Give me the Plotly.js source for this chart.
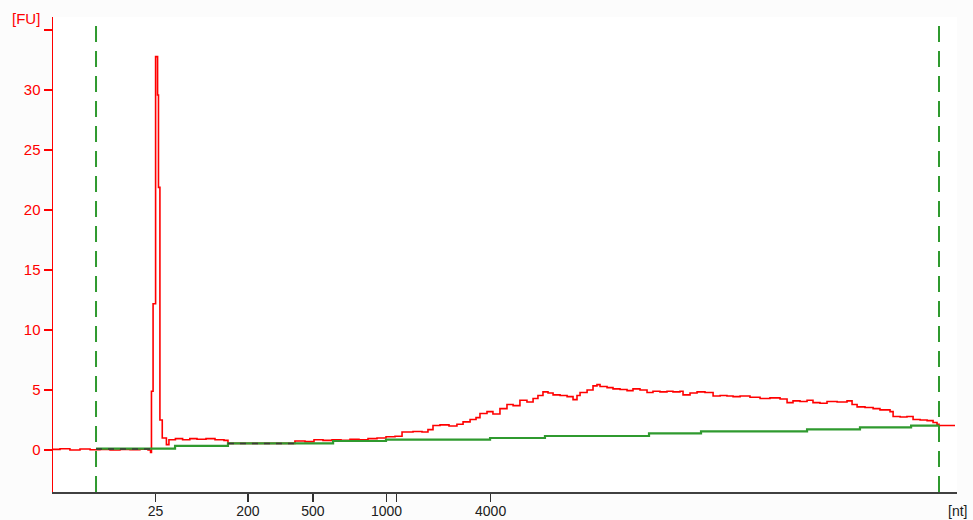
<!DOCTYPE html>
<html>
<head>
<meta charset="utf-8">
<script src="https://cdn.plot.ly/plotly-3.0.1.min.js"></script>
<style>html,body{margin:0;padding:0;background:#fff;}#chart{width:973px;height:520px;}</style>
</head>
<body>
<div id="chart"></div>
<script>
// Migration time (s) vs fluorescence (FU)
const sampleTime = [19.00,19.39,19.94,20.50,21.06,21.61,22.17,22.72,23.28,23.83,24.28,24.42,24.47,24.56,24.70,24.81,24.86,24.94,25.07,25.30,25.44,25.80,26.20,26.60,27.00,27.50,28.00,28.50,28.72,30.50,32.44,33.00,33.50,34.00,34.50,35.00,35.50,36.00,36.50,37.00,37.50,38.00,38.39,39.00,39.50,39.83,40.11,40.50,41.00,41.44,41.78,42.17,42.50,42.72,43.11,43.44,43.83,44.22,44.56,44.94,45.33,45.67,45.94,46.22,46.50,46.78,47.17,47.56,47.89,48.11,48.28,48.67,49.00,49.22,49.39,49.78,50.11,50.50,50.89,51.22,51.61,52.00,52.33,52.72,53.11,53.44,53.83,54.00,54.39,54.78,55.22,55.67,56.06,56.44,56.78,57.17,57.72,58.28,58.83,59.39,59.78,60.11,60.50,60.89,61.22,61.61,62.00,62.56,63.11,63.39,63.67,64.11,64.56,64.94,65.50,65.67,66.06,66.44,66.78,67.17,67.56,67.89,68.11,68.22,69.11];
const sampleFU = [0.05,0.10,0.00,0.08,0.02,0.05,0.00,0.05,0.02,0.06,0.00,-0.20,4.90,12.20,32.80,29.60,21.90,2.50,1.00,0.45,0.85,0.95,0.85,0.95,0.90,0.95,0.85,0.80,0.55,0.55,0.75,0.70,0.85,0.80,0.85,0.80,0.90,0.85,0.95,1.00,1.10,1.15,1.50,1.55,1.50,1.70,2.05,2.10,2.00,2.15,2.35,2.55,2.70,3.05,3.20,3.00,3.45,3.80,3.70,4.15,4.00,4.30,4.55,4.85,4.75,4.60,4.55,4.45,4.20,4.55,4.80,5.00,5.35,5.45,5.30,5.20,5.10,5.05,4.95,5.10,5.00,4.80,4.90,4.85,4.90,4.85,4.90,4.60,4.75,4.85,4.80,4.50,4.55,4.50,4.45,4.50,4.40,4.30,4.35,4.25,3.95,4.10,4.05,4.15,3.95,3.90,4.05,4.00,4.10,3.80,3.60,3.55,3.45,3.35,3.20,2.80,2.75,2.80,2.55,2.50,2.45,2.30,2.15,2.05,2.05];

// Baseline (green step line)
const baseTime = [21.39,25.78,28.72,34.56,37.50,43.28,46.33,52.11,55.00,60.89,63.83,66.67,68.22];
const baseFU   = [0.12,0.35,0.55,0.75,0.87,1.00,1.17,1.38,1.55,1.72,1.88,2.03,2.05];

// Overlap segments (dark)
const overlapTime = [21.39,24.39,null,28.72,32.44];
const overlapFU   = [0.08,0.08,null,0.55,0.55];

// Start/end markers of analysis window
const windowTimes = [21.39,68.22];

// X tick labels (nt)
const xTickTime  = [24.69,29.83,33.44,37.53,38.08,43.31];
const xTickLabel = ['25','200','500','1000','','4000'];

// Y ticks
const yTickVals  = [0,5,10,15,20,25,30,35];
const yTickLabel = ['0','5','10','15','20','25','30',''];

const font = 'Liberation Sans, Arial, sans-serif';

const traces = [
  {x: sampleTime, y: sampleFU, type:'scatter', mode:'lines',
   line:{color:'#ff0000', width:1.6, shape:'hv'}, hoverinfo:'skip'},
  {x: baseTime, y: baseFU, type:'scatter', mode:'lines',
   line:{color:'#2f9a2f', width:2.2, shape:'hv'}, hoverinfo:'skip'},
  {x: overlapTime, y: overlapFU, type:'scatter', mode:'lines',
   line:{color:'#3a3a3a', width:1.5, dash:'6px,6px'}, hoverinfo:'skip', connectgaps:false}
];

const shapes = windowTimes.map(t => ({
  type:'line', xref:'x', yref:'paper', x0:t, x1:t, y0:0, y1:1,
  line:{color:'#2f9a2f', width:2, dash:'16px,9px'}
}));

const layout = {
  width:973, height:520,
  margin:{l:53, r:16, t:17, b:28},
  paper_bgcolor:'#fcfcfc', plot_bgcolor:'#ffffff',
  showlegend:false,
  xaxis:{range:[19,69.22], showgrid:false, zeroline:false,
    showline:true, linecolor:'#404040', linewidth:2,
    tickmode:'array', tickvals:xTickTime, ticktext:xTickLabel,
    ticks:'outside', ticklen:8, tickwidth:1.5, tickcolor:'#303030',
    ticklabelstandoff:-3,
    tickfont:{family:font, size:14, color:'#202020'}},
  yaxis:{range:[-3.5,36.1], showgrid:false, zeroline:false,
    showline:true, linecolor:'#ff0000', linewidth:1.5,
    tickmode:'array', tickvals:yTickVals, ticktext:yTickLabel,
    ticks:'outside', ticklen:8, tickwidth:1.5, tickcolor:'#ff0000',
    tickfont:{family:font, size:15, color:'#ff0000'}},
  shapes: shapes,
  annotations:[
    {text:'[FU]', xref:'paper', yref:'paper', x:-0.012, y:0.996, xanchor:'right', yanchor:'middle',
     showarrow:false, font:{family:font, size:15, color:'#ff0000'}},
    {text:'[nt]', xref:'paper', yref:'paper', x:1.0, y:-0.04, xanchor:'center', yanchor:'middle',
     showarrow:false, font:{family:font, size:14, color:'#202020'}}
  ]
};

Plotly.newPlot('chart', traces, layout, {staticPlot:true, displayModeBar:false});
</script>
</body>
</html>
